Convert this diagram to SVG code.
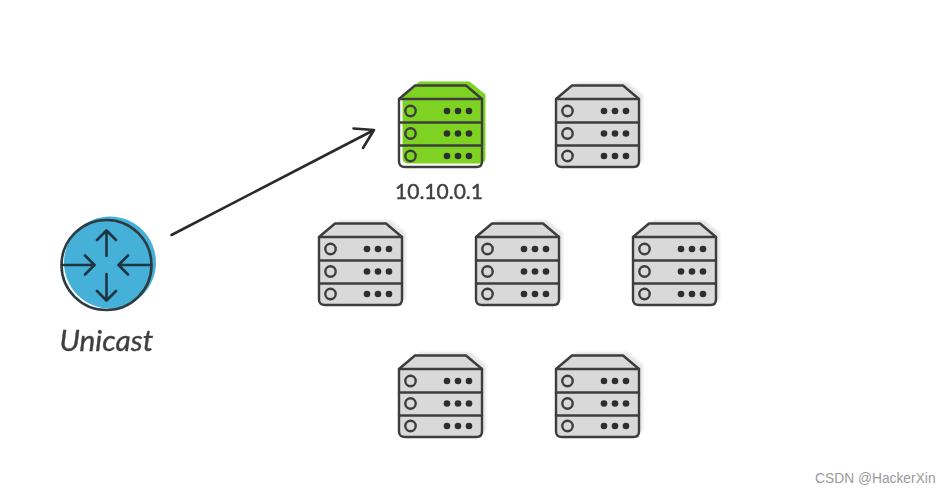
<svg xmlns="http://www.w3.org/2000/svg" width="951" height="493" viewBox="0 0 951 493">
<style>
.o{fill:none;stroke:#3d3d3d;stroke-width:2.4;stroke-linejoin:round;stroke-linecap:round}
.d{fill:#2e2e2e;stroke:none}
.lbl{font-family:Lato,"Liberation Sans",sans-serif;fill:#3f3f3f;stroke:#3f3f3f;stroke-width:0.4}
.sh{fill:#e6e6e6}
.fg{fill:#d9d9d9}
.gr{fill:#7ed321}
</style>
<defs>
<filter id="soft" x="-10%" y="-10%" width="120%" height="120%"><feGaussianBlur stdDeviation="0.6"/></filter>
<filter id="soft2" x="-10%" y="-10%" width="120%" height="120%"><feGaussianBlur stdDeviation="0.9"/></filter>
<path id="shape" d="M17 0H67L83 13V76Q83 82 77 82H6Q0 82 0 76V13Z"/>
<g id="lines">
<path class="o" d="M16 0.500H67L83 14V76.500Q83 82 77.500 82H6Q0 82 0 76.500V14Z"/>
<path class="o" d="M0 14H83M0 37.500H83M0 60.500H83"/>
<circle class="o" cx="11.500" cy="26" r="5.200"/>
<circle class="o" cx="11.500" cy="48.500" r="5.200"/>
<circle class="o" cx="11.500" cy="71" r="5.200"/>
<g class="d">
<circle cx="48" cy="26" r="3.300"/><circle cx="59" cy="26" r="3.300"/><circle cx="70" cy="26" r="3.300"/>
<circle cx="48" cy="48.500" r="3.300"/><circle cx="59" cy="48.500" r="3.300"/><circle cx="70" cy="48.500" r="3.300"/>
<circle cx="48" cy="71" r="3.300"/><circle cx="59" cy="71" r="3.300"/><circle cx="70" cy="71" r="3.300"/>
</g>
</g>
<g id="server">
<use href="#shape" class="sh" x="4" y="-3" filter="url(#soft2)"/>
<use href="#shape" class="fg"/>
<use href="#lines" filter="url(#soft)"/>
</g>
</defs>
<rect width="951" height="493" fill="#ffffff"/>
<g id="connectors" filter="url(#soft)">
<path d="M171.500 235L374 130M353.500 128.500L374 130L363 148" fill="none" stroke="#2b2b2b" stroke-width="2.600" stroke-linecap="round" stroke-linejoin="round"/>
</g>
<g id="router">
<circle cx="110" cy="262.500" r="46" fill="#45b0d8" filter="url(#soft)"/>
<g filter="url(#soft)">
<circle cx="106.500" cy="265" r="45" fill="none" stroke="#2f3a40" stroke-width="2.600"/>
<path d="M106.500 256V231M97 240L106.500 230.500L116 240M106.500 274V300M97 291L106.500 300.500L116 291M62 265H94M85 255.500L94.500 265L85 274.500M151 265H119M128 255.500L118.500 265L128 274.500" fill="none" stroke="#1f3540" stroke-width="2.600" stroke-linecap="round" stroke-linejoin="round"/>
</g>
<text class="lbl" x="59.500" y="351" font-size="29.800" font-style="italic" filter="url(#soft)">Unicast</text>
</g>
<g id="server-green">
<g transform="translate(399 85)">
<use href="#shape" class="gr" x="3.500" y="-3.500" filter="url(#soft)"/>
<use href="#lines" filter="url(#soft)"/>
</g>
<text class="lbl" x="439" y="199" font-size="21" text-anchor="middle" filter="url(#soft)">10.10.0.1</text>
</g>
<g id="server-2"><use href="#server" x="556" y="85"/></g>
<g id="server-3"><use href="#server" x="319" y="223"/></g>
<g id="server-4"><use href="#server" x="476" y="223"/></g>
<g id="server-5"><use href="#server" x="633" y="223"/></g>
<g id="server-6"><use href="#server" x="399" y="355"/></g>
<g id="server-7"><use href="#server" x="556" y="355"/></g>
<text id="watermark" x="815" y="483" font-family="Liberation Sans,Arial,sans-serif" font-size="13.800" fill="#9a9a9a">CSDN @HackerXin</text>
</svg>
